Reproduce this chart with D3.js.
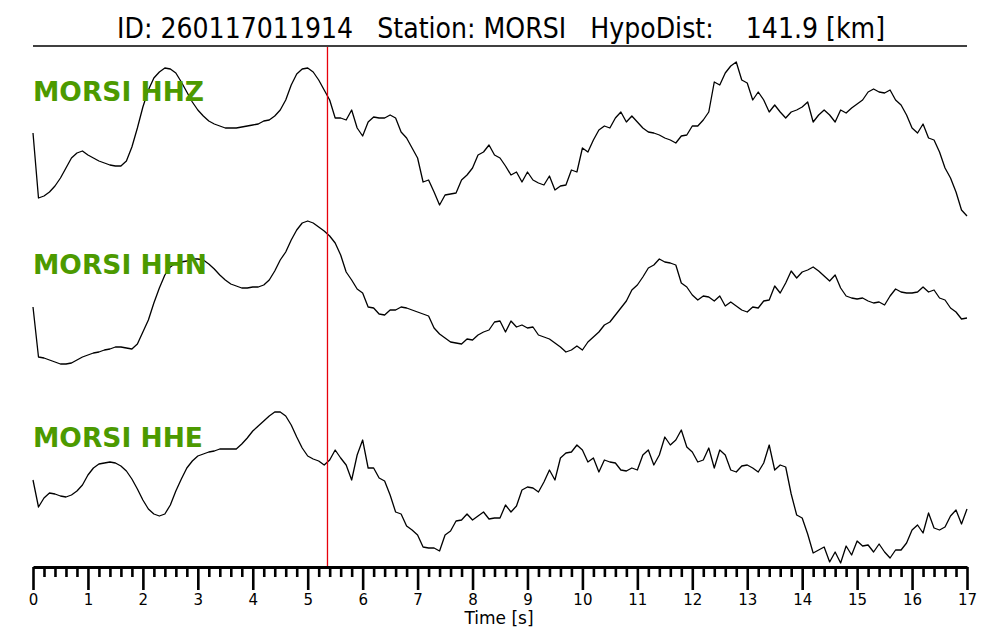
<!DOCTYPE html>
<html><head><meta charset="utf-8">
<script src="https://cdn.jsdelivr.net/npm/d3@7"></script>
<style>body{margin:0;background:#fff} svg{display:block;font-family:"DejaVu Sans",sans-serif}</style>
</head><body><svg id="chart" width="1000" height="640"></svg>
<script>
// ---- data ----
const eventId = "260117011914";
const station = "MORSI";
const hypoDist = 141.9;
const channels = ["HHZ", "HHN", "HHE"];
const sampleInterval = 0.1; // s
const pickTime = 5.36;      // s (P pick)
const majorTicks = [0,1,2,3,4,5,6,7,8,9,10,11,12,13,14,15,16,17];
const minorStep = 0.2;

const hhz = [6,-59,-57,-53,-47,-39,-29,-19,-14,-12,
-16,-19,-22,-24,-26,-27,-27,-22,-8,11,
32,49,61,67,71,70,66,57,47,37,
29,23,18,15,13,11,11,11,12,13,
14,15,18,19,23,29,39,54,65,70,
71,67,59,49,39,21,21,19,29,11,
3,17,22,21,21,24,21,7,1,-9,
-19,-43,-41,-53,-66,-56,-55,-54,-41,-36,
-29,-16,-13,-6,-16,-19,-27,-36,-33,-43,
-33,-41,-44,-46,-37,-51,-47,-46,-31,-33,
-9,-13,-1,9,13,11,21,27,17,23,
17,11,7,6,4,1,-1,-4,3,4,
13,13,19,27,57,54,66,73,77,59,
56,39,47,39,27,34,27,21,27,29,
32,37,17,24,29,24,17,29,26,31,
35,39,47,50,47,46,49,39,34,24,
11,6,15,1,-1,-13,-29,-39,-53,-71,
-77];

const hhn = [-15,-65,-66,-68,-70,-72,-72,-71,-68,-65,
-63,-61,-60,-58,-57,-55,-55,-56,-57,-52,
-40,-28,-11,4,17,25,29,30,31,33,
33,32,28,23,17,12,8,6,4,4,
5,5,7,12,21,32,40,52,62,69,
71,69,65,61,56,49,37,20,12,3,
-1,-15,-16,-22,-23,-18,-18,-15,-16,-18,
-20,-22,-24,-36,-42,-46,-50,-51,-52,-47,
-48,-43,-40,-38,-30,-29,-40,-29,-35,-33,
-36,-35,-43,-45,-47,-51,-55,-60,-58,-54,
-58,-50,-45,-40,-33,-30,-23,-16,-9,2,
7,15,24,27,33,30,29,27,9,5,
-3,-8,-4,-5,-9,-4,-14,-10,-14,-18,
-20,-15,-16,-9,-8,6,-1,9,21,14,
20,22,25,21,16,11,17,4,-4,-6,
-7,-6,-9,-11,-10,-13,-4,3,0,-1,
-1,0,5,0,2,-6,-8,-16,-20,-27,
-26];

const hhe = [8,-19,-10,-5,-6,-8,-9,-7,-3,3,
13,20,24,25,26,25,22,17,9,-1,
-12,-21,-26,-28,-26,-17,-3,9,20,27,
32,34,36,37,39,39,39,39,44,50,
57,62,67,72,76,76,72,63,51,40,
32,29,27,23,28,38,30,23,8,33,
48,20,20,10,7,-7,-24,-26,-38,-42,
-47,-59,-60,-60,-63,-47,-43,-33,-32,-26,
-32,-28,-24,-31,-30,-30,-17,-24,-18,-2,
1,0,-4,6,18,8,30,35,36,43,
38,26,30,16,28,26,25,18,17,20,
18,33,38,23,33,51,43,48,58,41,
36,26,28,40,20,38,33,18,16,22,
23,20,16,25,43,18,23,21,-6,-27,
-30,-46,-65,-62,-59,-74,-64,-75,-58,-67,
-53,-58,-57,-64,-56,-64,-70,-62,-62,-55,
-42,-37,-45,-25,-40,-42,-39,-28,-22,-36,
-21];

const traces = [hhz, hhn, hhe];

// ---- layout ----
const svg = d3.select("#chart");
const x = d3.scaleLinear().domain([0, 17]).range([33, 967]);
const traceCenters = [139, 292, 488];
const labelBaselines = [101, 274, 447];
const amp = d3.scaleLinear().domain([-80, 80]).range([80, -80]);
const axisY = 567;

// title
svg.append("text")
  .attr("x", 117).attr("y", 38)
  .style("white-space", "pre")
  .attr("font-size", 28.5)
  .attr("textLength", 768)
  .attr("lengthAdjust", "spacingAndGlyphs")
  .attr("fill", "#000")
  .text(`ID: ${eventId}   Station: ${station}   HypoDist:    ${hypoDist.toFixed(1)} [km]`);

svg.append("line")
  .attr("x1", 33).attr("x2", 967).attr("y1", 46).attr("y2", 46)
  .attr("stroke", "#000").attr("stroke-width", 1.6);

// traces
const line = d3.line()
  .x((d, i) => x(i * sampleInterval))
  .y(d => amp(d));

traces.forEach((vals, k) => {
  const g = svg.append("g").attr("transform", `translate(0,${traceCenters[k]})`);
  g.append("path")
    .datum(vals)
    .attr("d", line)
    .attr("fill", "none")
    .attr("stroke", "#000")
    .attr("stroke-width", 1.3)
    .attr("stroke-linejoin", "round");
  svg.append("text")
    .attr("x", 33).attr("y", labelBaselines[k])
    .attr("font-size", 26.5)
    .attr("font-weight", "bold")
    .attr("fill", "#4c9a00")
    .text(`${station} ${channels[k]}`);
});

// pick line
svg.append("line")
  .attr("x1", x(pickTime)).attr("x2", x(pickTime))
  .attr("y1", 47).attr("y2", axisY)
  .attr("stroke", "#e8000b").attr("stroke-width", 1.3);

// axis
const minorTicks = d3.range(0, 17 + 1e-9, minorStep).filter(v => Math.abs(v - Math.round(v)) > 1e-6);
const gMinor = svg.append("g").attr("transform", `translate(0,${axisY})`)
  .call(d3.axisBottom(x).tickValues(minorTicks).tickSize(10).tickSizeOuter(0).tickFormat(""));
gMinor.select(".domain").remove();
gMinor.selectAll(".tick line").attr("stroke", "#000").attr("stroke-width", 2.6);

const gMajor = svg.append("g").attr("transform", `translate(0,${axisY})`)
  .call(d3.axisBottom(x).tickValues(majorTicks).tickSize(23).tickSizeOuter(0).tickPadding(4).tickFormat(d3.format("d")));
gMajor.select(".domain").attr("stroke", "#000").attr("stroke-width", 2.8);
gMajor.selectAll(".tick line").attr("stroke", "#000").attr("stroke-width", 2.6);
gMajor.selectAll(".tick text").attr("font-size", 15).attr("font-family", "DejaVu Sans").attr("fill", "#000");

svg.append("text")
  .attr("x", 499).attr("y", 624)
  .attr("text-anchor", "middle")
  .attr("font-size", 17)
  .attr("fill", "#000")
  .text("Time [s]");
</script>
</body></html>
